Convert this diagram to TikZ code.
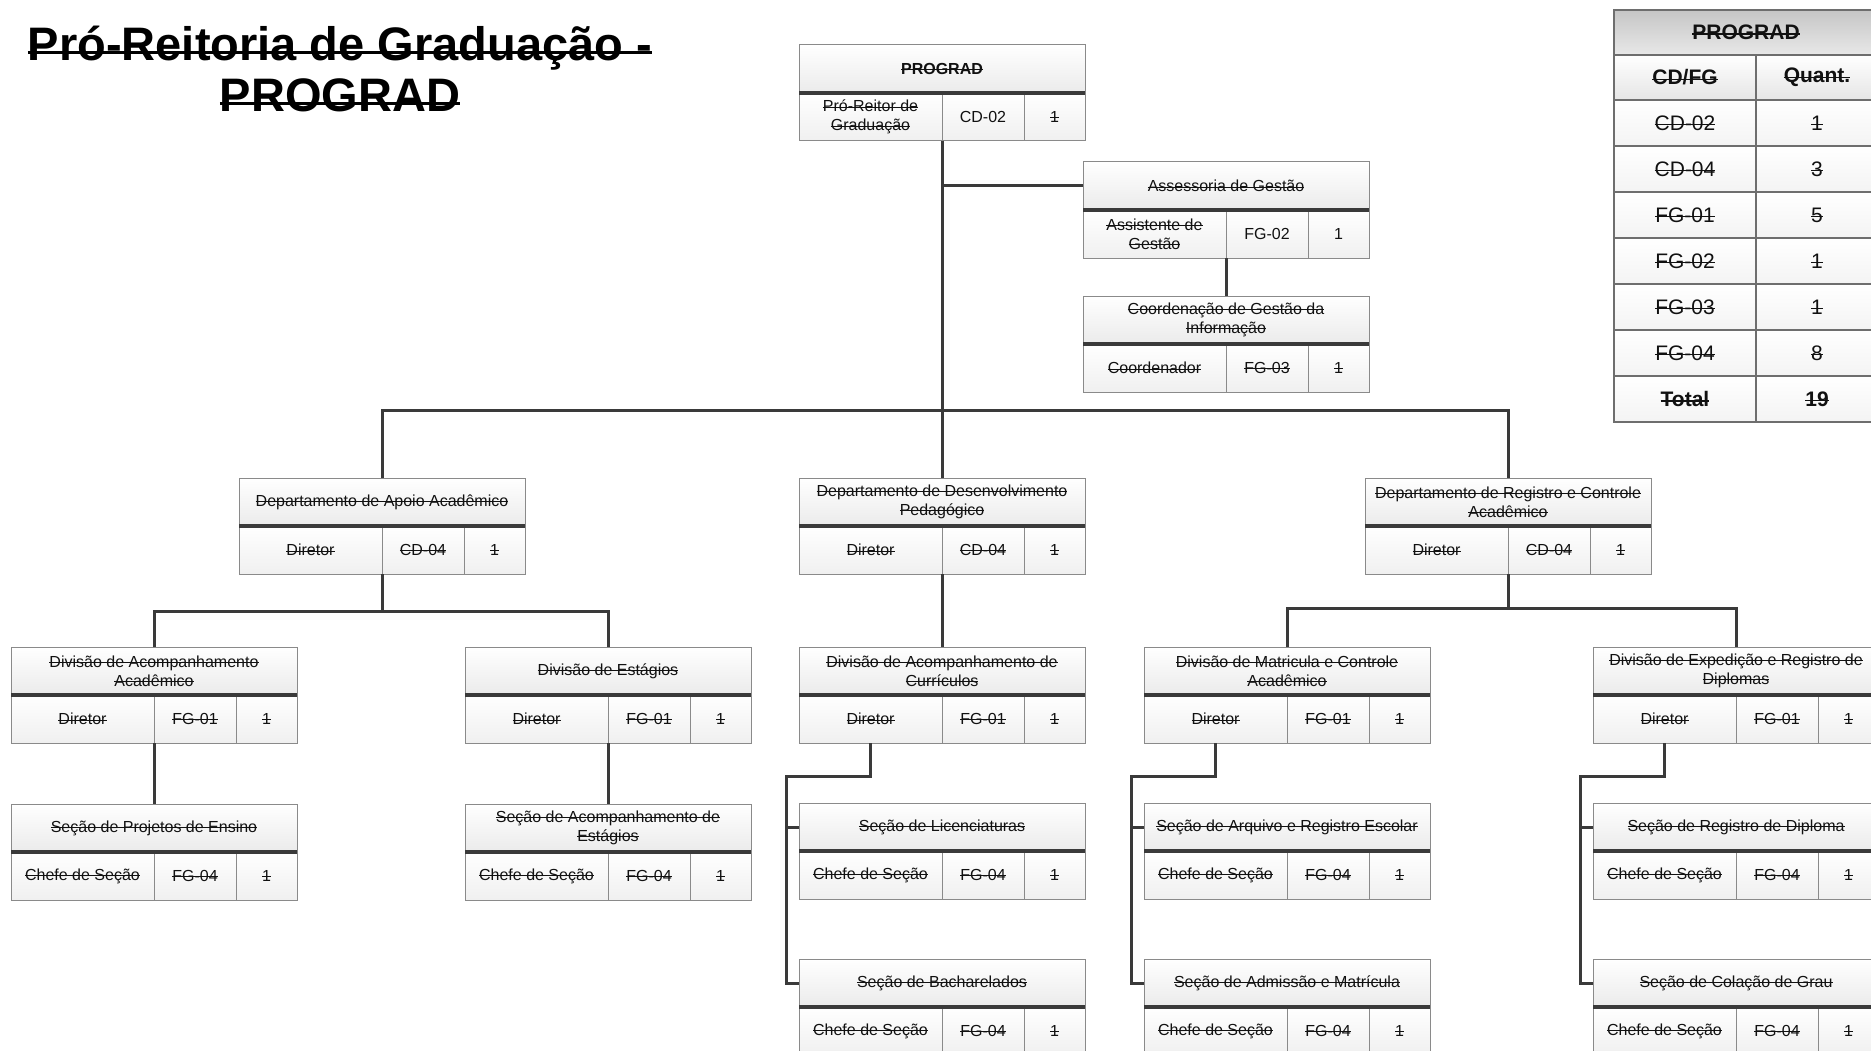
\documentclass[tikz,border=0pt]{standalone}
\usepackage{fontspec}
\setmainfont{Liberation Sans}
\newcommand\stkgen[3]{\leavevmode\setbox0\hbox{#3}\rlap{\vrule height\dimexpr#1+#2/2\relax depth-\dimexpr#1-#2/2\relax width\wd0}\box0}
\newcommand\stk{\stkgen{.55ex}{1pt}}
\newcommand\tst{\stkgen{.35ex}{3pt}}
\newcommand\mst{\stkgen{.5ex}{1.4pt}}
\definecolor{boxgray}{HTML}{8A8A8A}
\definecolor{linegray}{HTML}{3A3A3A}
\definecolor{tgray}{HTML}{6E6E6E}
\definecolor{txt}{HTML}{111111}
\tikzset{
  hdr/.style={draw=boxgray, line width=1pt, top color=white, bottom color=gray!16,
    minimum width=286pt, minimum height=48pt, inner sep=2pt, outer sep=0pt,
    align=center, text=txt, font=\fontsize{16}{19}\selectfont},
  cell/.style={draw=boxgray, line width=1pt, top color=white, bottom color=gray!12,
    minimum height=48pt, inner sep=1pt, outer sep=0pt,
    align=center, text=txt, font=\fontsize{16}{19}\selectfont},
  sepline/.style={draw=linegray, line width=4pt},
  conn/.style={draw=linegray, line width=3pt},
  thead/.style={draw=tgray, line width=1.2pt, top color=gray!45, bottom color=gray!18,
    minimum height=45pt, inner sep=1pt, outer sep=0pt, text=txt,
    font=\fontsize{21}{25}\selectfont\bfseries},
  tcell/.style={draw=tgray, line width=1.2pt, top color=white, bottom color=gray!9,
    minimum height=46pt, inner sep=1pt, outer sep=0pt, text=txt,
    font=\fontsize{21}{25}\selectfont},
}
\newcommand\orgbox[7]{%
  \node[hdr, anchor=north west] (#1) at (#2,#3) {#4};
  \node[cell, anchor=north west, minimum width=143pt] (#1-a) at (#1.south west) {#5};
  \node[cell, anchor=north west, minimum width=82pt] (#1-b) at (#1-a.north east) {#6};
  \node[cell, anchor=north west, minimum width=61pt] (#1-c) at (#1-b.north east) {#7};
  \draw[sepline] (#1.south west) -- (#1.south east);
}
\newcommand\trow[4]{% name, above-node, left, right
  \node[tcell, anchor=north west, minimum width=142pt] (#1a) at (#2.south west) {#3};
  \node[tcell, anchor=north west, minimum width=122pt] (#1b) at (#1a.north east) {#4};
}
\begin{document}
\begin{tikzpicture}[x=1pt,y=-1pt]
\path[use as bounding box] (0,0) rectangle (1871,1051);
\clip (0,0) rectangle (1871,1051);
\fill[white] (0,0) rectangle (1871,1051);

% title
\node[anchor=base, font=\fontsize{47}{52}\selectfont\bfseries, text=black, inner sep=0pt] (title1) at (340,61) {\tst{Pró-Reitoria de Graduação -}};
\node[anchor=base, font=\fontsize{47}{52}\selectfont\bfseries, text=black, inner sep=0pt] (title2) at (340,112) {\tst{PROGRAD}};

% boxes
\orgbox{prograd}{799}{45}{\textbf{\stk{PROGRAD}}}{\stk{Pró-Reitor de}\\\stk{Graduação}}{CD-02}{\stk{1}}
\orgbox{assess}{1083}{162}{\stk{Assessoria de Gestão}}{\stk{Assistente de}\\\stk{Gestão}}{FG-02}{1}
\orgbox{coord}{1083}{296}{\stk{Coordenação de Gestão da}\\\stk{Informação}}{\stk{Coordenador}}{\stk{FG-03}}{\stk{1}}

\orgbox{apoio}{239}{478}{\stk{Departamento de Apoio Acadêmico}}{\stk{Diretor}}{\stk{CD-04}}{\stk{1}}
\orgbox{desenv}{799}{478}{\stk{Departamento de Desenvolvimento}\\\stk{Pedagógico}}{\stk{Diretor}}{\stk{CD-04}}{\stk{1}}
\orgbox{registro}{1365}{478}{\stk{Departamento de Registro e Controle}\\\stk{Acadêmico}}{\stk{Diretor}}{\stk{CD-04}}{\stk{1}}

\orgbox{acompacad}{11}{647}{\stk{Divisão de Acompanhamento}\\\stk{Acadêmico}}{\stk{Diretor}}{\stk{FG-01}}{\stk{1}}
\orgbox{estagios}{465}{647}{\stk{Divisão de Estágios}}{\stk{Diretor}}{\stk{FG-01}}{\stk{1}}
\orgbox{curric}{799}{647}{\stk{Divisão de Acompanhamento de}\\\stk{Currículos}}{\stk{Diretor}}{\stk{FG-01}}{\stk{1}}
\orgbox{matric}{1144}{647}{\stk{Divisão de Matricula e Controle}\\\stk{Acadêmico}}{\stk{Diretor}}{\stk{FG-01}}{\stk{1}}
\orgbox{exped}{1593}{647}{\stk{Divisão de Expedição e Registro de}\\\stk{Diplomas}}{\stk{Diretor}}{\stk{FG-01}}{\stk{1}}

\orgbox{projetos}{11}{804}{\stk{Seção de Projetos de Ensino}}{\stk{Chefe de Seção}}{\stk{FG-04}}{\stk{1}}
\orgbox{acompest}{465}{804}{\stk{Seção de Acompanhamento de}\\\stk{Estágios}}{\stk{Chefe de Seção}}{\stk{FG-04}}{\stk{1}}
\orgbox{lic}{799}{803}{\stk{Seção de Licenciaturas}}{\stk{Chefe de Seção}}{\stk{FG-04}}{\stk{1}}
\orgbox{arquivo}{1144}{803}{\stk{Seção de Arquivo e Registro Escolar}}{\stk{Chefe de Seção}}{\stk{FG-04}}{\stk{1}}
\orgbox{regdip}{1593}{803}{\stk{Seção de Registro de Diploma}}{\stk{Chefe de Seção}}{\stk{FG-04}}{\stk{1}}

\orgbox{bach}{799}{959}{\stk{Seção de Bacharelados}}{\stk{Chefe de Seção}}{\stk{FG-04}}{\stk{1}}
\orgbox{admissao}{1144}{959}{\stk{Seção de Admissão e Matrícula}}{\stk{Chefe de Seção}}{\stk{FG-04}}{\stk{1}}
\orgbox{colacao}{1593}{959}{\stk{Seção de Colação de Grau}}{\stk{Chefe de Seção}}{\stk{FG-04}}{\stk{1}}

% connectors
\draw[conn] (prograd-a.south east) -- (desenv.north);
\draw[conn] (prograd-a.south east |- assess.west) -- (assess.west);
\draw[conn] (assess-a.south east) -- (coord.north);
\coordinate (bus1) at (942,410);
\draw[conn] (apoio.north) |- (bus1) -| (registro.north);
\coordinate (bus2) at (382,611);
\draw[conn] (apoio-a.south east) -- (bus2);
\draw[conn] (acompacad.north) |- (bus2) -| (estagios.north);
\draw[conn] (acompacad-a.south east) -- (projetos.north);
\draw[conn] (estagios-a.south east) -- (acompest.north);
\draw[conn] (desenv-a.south east) -- (curric.north);
\coordinate (el1) at (786,776);
\draw[conn] (curric-a.south) |- (el1) |- (bach.west);
\draw[conn] (el1 |- lic.west) -- (lic.west);
\coordinate (bus3) at (1508,608);
\draw[conn] (registro-a.south east) -- (bus3);
\draw[conn] (matric.north) |- (bus3) -| (exped.north);
\coordinate (el2) at (1131,776);
\draw[conn] (matric-a.south) |- (el2) |- (admissao.west);
\draw[conn] (el2 |- arquivo.west) -- (arquivo.west);
\coordinate (el3) at (1580,776);
\draw[conn] (exped-a.south) |- (el3) |- (colacao.west);
\draw[conn] (el3 |- regdip.west) -- (regdip.west);

% summary table
\node[thead, anchor=north west, minimum width=264pt] (t0) at (1614,10) {\mst{PROGRAD}};
\node[tcell, anchor=north west, minimum width=142pt, minimum height=45pt, bottom color=gray!20, font=\fontsize{21}{25}\selectfont\bfseries] (t1a) at (t0.south west) {\mst{CD/FG}};
\node[tcell, anchor=north west, minimum width=122pt, minimum height=45pt, bottom color=gray!20, font=\fontsize{21}{25}\selectfont\bfseries] (t1b) at (t1a.north east) {\mst{Quant.}};
\trow{t2}{t1a}{\mst{CD-02}}{\mst{1}}
\trow{t3}{t2a}{\mst{CD-04}}{\mst{3}}
\trow{t4}{t3a}{\mst{FG-01}}{\mst{5}}
\trow{t5}{t4a}{\mst{FG-02}}{\mst{1}}
\trow{t6}{t5a}{\mst{FG-03}}{\mst{1}}
\trow{t7}{t6a}{\mst{FG-04}}{\mst{8}}
\trow{t8}{t7a}{\textbf{\mst{Total}}}{\textbf{\mst{19}}}
\end{tikzpicture}
\end{document}
